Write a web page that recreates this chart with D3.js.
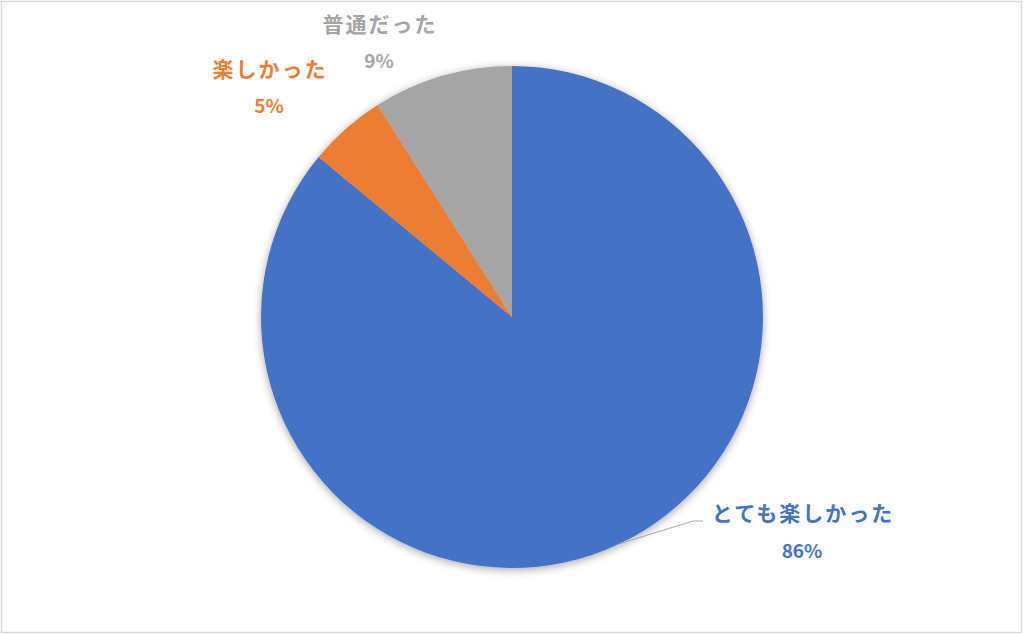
<!DOCTYPE html>
<html>
<head>
<meta charset="utf-8">
<title>Pie</title>
<script src="https://cdn.jsdelivr.net/npm/d3@7/dist/d3.min.js"></script>
<style>
  body { margin: 0; background: #fff; }
  text { font-family: "Noto Sans CJK JP", "Noto Sans", sans-serif; font-weight: bold; }
</style>
</head>
<body>
<script>
// data
var categories = ["とても楽しかった", "楽しかった", "普通だった"];
var values = [86, 5, 9];
var colors = ["#4472C4", "#ED7D31", "#A5A5A5"];

var width = 1024, height = 635;
var cx = 512, cy = 317, r = 251;

// label anchors (name line, percent line) picked to match the layout
var labelPos = [
  { x: 802, y: 512, py: 549 },
  { x: 269, y: 68, py: 104 },
  { x: 379, y: 23, py: 59 }
];

var svg = d3.select("body").append("svg")
  .attr("width", width).attr("height", height);

// chart frame
svg.append("rect")
  .attr("x", 1.5).attr("y", 1.5)
  .attr("width", 1020).attr("height", 631)
  .attr("fill", "#fff")
  .attr("stroke", "#d9d9d9")
  .attr("stroke-width", 1.5);

var defs = svg.append("defs");
var f = defs.append("filter").attr("id", "shadow")
  .attr("x", "-20%").attr("y", "-20%").attr("width", "140%").attr("height", "140%");
f.append("feDropShadow")
  .attr("dx", 0).attr("dy", 2)
  .attr("stdDeviation", 4)
  .attr("flood-color", "#000")
  .attr("flood-opacity", 0.35);

var pie = d3.pie().sort(null).value(function(d) { return d; });
var arcs = pie(values);
var arc = d3.arc().innerRadius(0).outerRadius(r);

var g = svg.append("g").attr("transform", "translate(" + cx + "," + cy + ")");

g.append("g").attr("filter", "url(#shadow)")
  .selectAll("path")
  .data(arcs)
  .enter()
  .append("path")
  .attr("d", arc)
  .attr("fill", function(d, i) { return colors[i]; });

// leader line for the big slice
var a = 154.5 * Math.PI / 180;
var p0 = [cx + r * Math.sin(a), cy - r * Math.cos(a)];
svg.append("polyline")
  .attr("points", [p0, [693, 521], [703, 521]].map(function(p) { return p.join(","); }).join(" "))
  .attr("fill", "none")
  .attr("stroke", "#a6a6a6")
  .attr("stroke-width", 1);

var fmt = d3.format(".0f");

var labels = svg.append("g").selectAll("g")
  .data(arcs)
  .enter()
  .append("g");

labels.append("text")
  .attr("x", function(d, i) { return labelPos[i].x + 1; })
  .attr("y", function(d, i) { return labelPos[i].y; })
  .attr("text-anchor", "middle")
  .attr("dominant-baseline", "central")
  .attr("font-size", "21px")
  .attr("letter-spacing", "2px")
  .attr("fill", function(d, i) { return colors[i]; })
  .text(function(d, i) { return categories[i]; });

labels.append("text")
  .attr("x", function(d, i) { return labelPos[i].x; })
  .attr("y", function(d, i) { return labelPos[i].py; })
  .attr("text-anchor", "middle")
  .attr("dominant-baseline", "central")
  .attr("font-size", "19px")
  .attr("fill", function(d, i) { return colors[i]; })
  .text(function(d) { return fmt(d.value) + "%"; });
</script>
</body>
</html>
